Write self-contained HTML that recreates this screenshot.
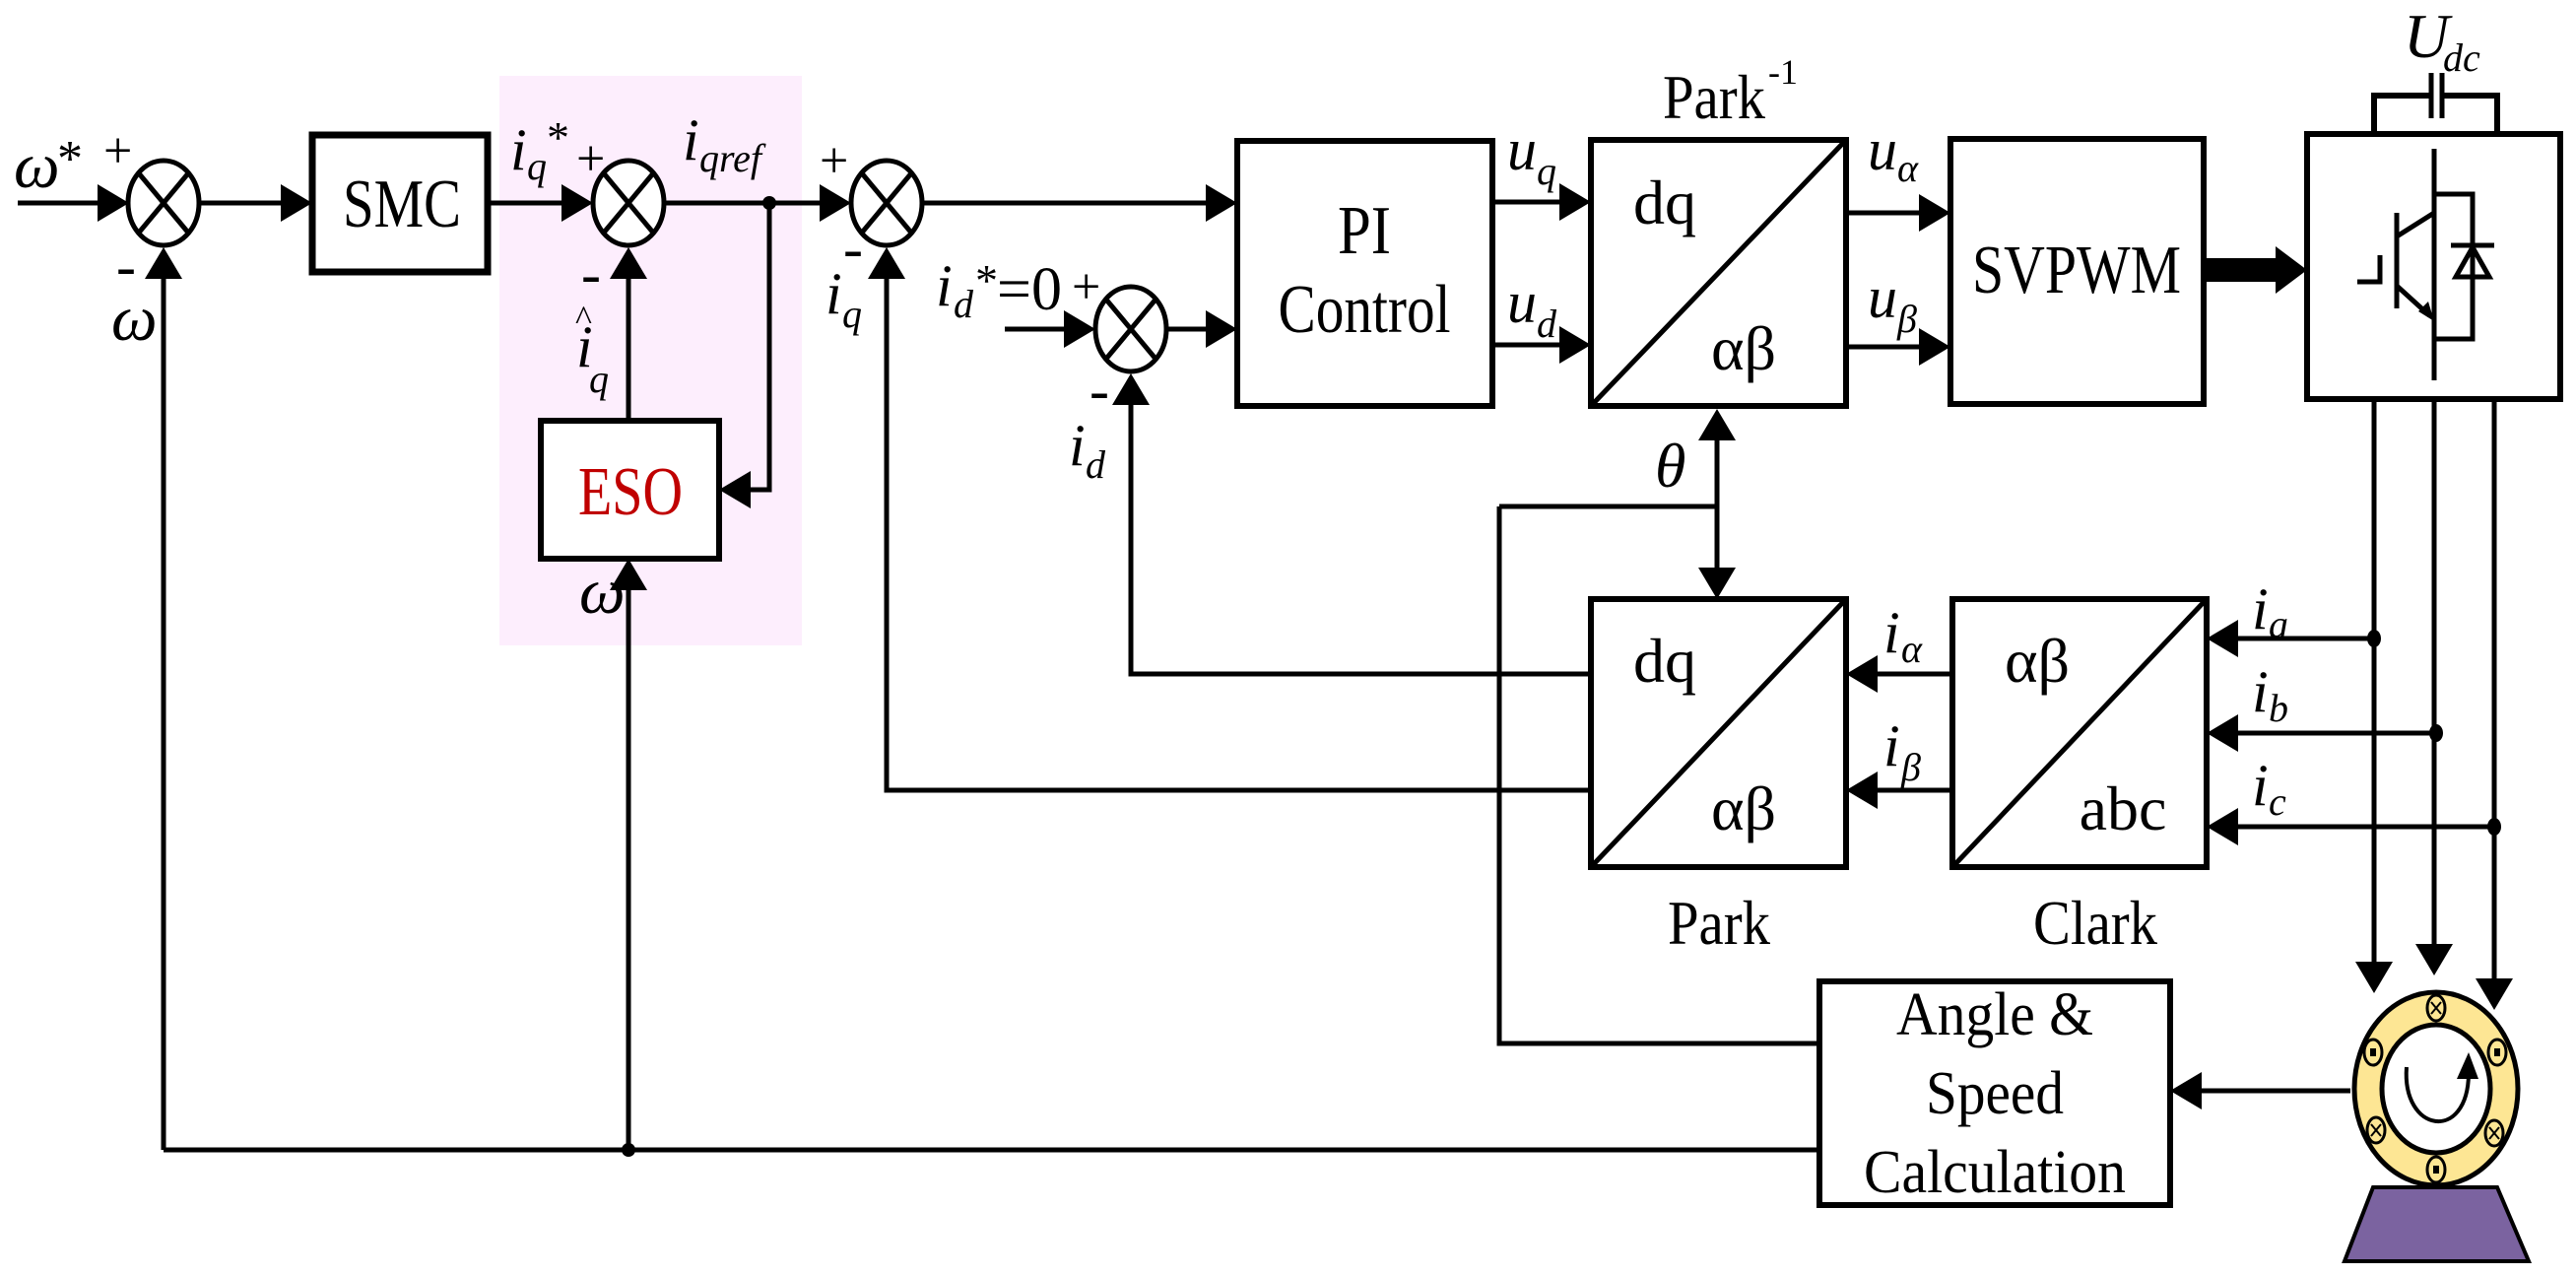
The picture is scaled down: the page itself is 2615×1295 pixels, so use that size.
<!DOCTYPE html>
<html><head><meta charset="utf-8"><style>
html,body{margin:0;padding:0;background:#fff;}
svg{display:block;}
text{font-family:"Liberation Serif",serif;fill:#000;}
.it{font-style:italic;}
</style></head><body>
<svg width="2615" height="1295" viewBox="0 0 2615 1295" xmlns="http://www.w3.org/2000/svg">
<rect x="507" y="77" width="307" height="578" fill="#fdeefd"/>
<g stroke="#000" stroke-width="5" fill="none">
<rect x="317" y="137" width="178" height="139" fill="#fff" stroke-width="7"/>
<rect x="549" y="427" width="181" height="140" fill="#fff" stroke-width="6"/>
<rect x="1256" y="143" width="259" height="269" fill="#fff" stroke-width="6"/>
<rect x="1615" y="142" width="259" height="270" fill="#fff" stroke-width="6"/>
<line x1="1615" y1="412" x2="1874" y2="142"/>
<rect x="1980" y="141" width="257" height="269" fill="#fff" stroke-width="6"/>
<rect x="2342" y="136" width="257" height="269" fill="#fff" stroke-width="6"/>
<rect x="1615" y="608" width="259" height="272" fill="#fff" stroke-width="6"/>
<line x1="1615" y1="880" x2="1874" y2="608"/>
<rect x="1982" y="608" width="258" height="272" fill="#fff" stroke-width="6"/>
<line x1="1982" y1="880" x2="2240" y2="608"/>
<rect x="1847" y="996" width="356" height="227" fill="#fff" stroke-width="6"/>
<g fill="#fff" stroke-width="5">
<ellipse cx="166" cy="206" rx="36" ry="43"/>
<ellipse cx="638" cy="206" rx="36" ry="43"/>
<ellipse cx="900" cy="206" rx="36" ry="43"/>
<ellipse cx="1148" cy="334" rx="36" ry="43"/>
</g>
<path d="M141,176L191,236M191,176L141,236M613,176L663,236M663,176L613,236M875,176L925,236M925,176L875,236M1123,304L1173,364M1173,304L1123,364"/>
<path d="M18,206H110M201,206H290M495,206H580M674,206H840M936,206H1230M1020,334H1090M1184,334H1230"/>
<path d="M166,1167V270M638,430V270M638,1167V590M781,206V497H755M1615,802H900V270M1615,684H1148V398"/>
<path d="M1515,205H1590M1515,350H1590M1874,216H1955M1874,352H1955"/>
<path d="M1743,440V585M1522,514H1743M1522,514V1059H1847"/>
<path d="M1982,684H1898M1982,802H1898M2410,648H2265M2473,744H2265M2532,839H2265"/>
<path d="M2410,405V985M2471,405V967M2532,405V1002M2386,1107H2228M166,1167H1847"/>
<path d="M2410,136V97H2468M2479,97H2535V136" stroke-width="6"/>
<path d="M2468,74V120M2479,74V120" stroke-width="5"/>
<path d="M2471,151V386M2471,197H2510V344H2471M2433,216V313M2416,259V286H2393M2433,240L2471,216M2433,290L2466,320" stroke-width="5"/>
<path d="M2488,249H2532"/>
</g>
<polygon points="2510,251 2493,281 2527,281" fill="none" stroke="#000" stroke-width="5"/>
<polygon points="2471,326 2455,316 2465,306" fill="#000"/>
<g fill="#000">
<polygon points="99,187 131,206 99,225"/>
<polygon points="285,187 317,206 285,225"/>
<polygon points="570,187 602,206 570,225"/>
<polygon points="832,187 864,206 832,225"/>
<polygon points="1224,187 1256,206 1224,225"/>
<polygon points="1080,315 1112,334 1080,353"/>
<polygon points="1224,315 1256,334 1224,353"/>
<polygon points="147,283 166,251 185,283"/>
<polygon points="619,283 638,251 657,283"/>
<polygon points="619,599 638,567 657,599"/>
<polygon points="881,283 900,251 919,283"/>
<polygon points="1129,411 1148,379 1167,411"/>
<polygon points="762,478 730,497 762,516"/>
<polygon points="1583,186 1615,205 1583,224"/>
<polygon points="1583,331 1615,350 1583,369"/>
<polygon points="1948,197 1980,216 1948,235"/>
<polygon points="1948,333 1980,352 1948,371"/>
<rect x="2240" y="262" width="72" height="24"/>
<polygon points="2310,250 2342,274 2310,298"/>
<polygon points="1724,447 1743,415 1762,447"/>
<polygon points="1724,576 1743,608 1762,576"/>
<polygon points="1906,665 1874,684 1906,703"/>
<polygon points="1906,783 1874,802 1906,821"/>
<polygon points="2272,629 2240,648 2272,667"/>
<polygon points="2272,725 2240,744 2272,763"/>
<polygon points="2272,820 2240,839 2272,858"/>
<polygon points="2391,976 2410,1008 2429,976"/>
<polygon points="2452,958 2471,990 2490,958"/>
<polygon points="2513,993 2532,1025 2551,993"/>
<polygon points="2235,1088 2203,1107 2235,1126"/>
<circle cx="781" cy="206" r="7"/>
<circle cx="638" cy="1167" r="7"/>
<ellipse cx="2410" cy="648" rx="7" ry="9"/>
<ellipse cx="2473" cy="744" rx="7" ry="9"/>
<ellipse cx="2532" cy="839" rx="7" ry="9"/>
</g>
<polygon points="2409,1205 2535,1205 2567,1280 2380,1280" fill="#7b63a0" stroke="#000" stroke-width="4"/>
<ellipse cx="2473" cy="1105" rx="83" ry="98" fill="#fde694" stroke="#000" stroke-width="5"/>
<ellipse cx="2473" cy="1105" rx="55" ry="65" fill="#fff" stroke="#000" stroke-width="5"/>
<g fill="#fde694" stroke="#000" stroke-width="3">
<ellipse cx="2473" cy="1023" rx="9" ry="13"/><ellipse cx="2409" cy="1068" rx="9" ry="13"/><ellipse cx="2535" cy="1068" rx="9" ry="13"/>
<ellipse cx="2412" cy="1147" rx="9" ry="13"/><ellipse cx="2532" cy="1150" rx="9" ry="13"/><ellipse cx="2473" cy="1187" rx="9" ry="13"/>
</g>
<g stroke="#000" stroke-width="2"><path d="M2468,1017L2478,1029M2478,1017L2468,1029M2407,1141L2417,1153M2417,1141L2407,1153M2527,1144L2537,1156M2537,1144L2527,1156"/></g>
<g fill="#000"><rect x="2406" y="1064" width="6" height="8"/><rect x="2532" y="1064" width="6" height="8"/><rect x="2470" y="1183" width="6" height="8"/></g>
<path d="M2443,1083 C2438,1150 2505,1160 2506,1090" fill="none" stroke="#000" stroke-width="4"/>
<polygon points="2506,1068 2494,1095 2516,1095" fill="#000"/>
<text x="408" y="230" font-size="70" text-anchor="middle" textLength="120" lengthAdjust="spacingAndGlyphs">SMC</text>
<text x="640" y="522" font-size="70" text-anchor="middle" style="fill:#c00000" textLength="106" lengthAdjust="spacingAndGlyphs">ESO</text>
<text x="1385" y="257" font-size="70" text-anchor="middle" textLength="54" lengthAdjust="spacingAndGlyphs">PI</text>
<text x="1385" y="337" font-size="70" text-anchor="middle" textLength="175" lengthAdjust="spacingAndGlyphs">Control</text>
<text x="2108" y="297" font-size="70" text-anchor="middle" textLength="212" lengthAdjust="spacingAndGlyphs">SVPWM</text>
<text x="1690" y="227" font-size="64" text-anchor="middle">dq</text>
<text x="1770" y="375" font-size="64" text-anchor="middle">αβ</text>
<text x="1690" y="692" font-size="64" text-anchor="middle">dq</text>
<text x="1770" y="842" font-size="64" text-anchor="middle">αβ</text>
<text x="2068" y="692" font-size="64" text-anchor="middle">αβ</text>
<text x="2155" y="842" font-size="64" text-anchor="middle">abc</text>
<text x="1745" y="958" font-size="64" text-anchor="middle" textLength="104" lengthAdjust="spacingAndGlyphs">Park</text>
<text x="2127" y="958" font-size="64" text-anchor="middle" textLength="126" lengthAdjust="spacingAndGlyphs">Clark</text>
<text x="1688" y="120" font-size="64" textLength="104" lengthAdjust="spacingAndGlyphs">Park</text>
<text x="1795" y="85" font-size="36">-1</text>
<text x="2025" y="1050" font-size="62" text-anchor="middle" textLength="200" lengthAdjust="spacingAndGlyphs">Angle &amp;</text>
<text x="2025" y="1130" font-size="62" text-anchor="middle" textLength="140" lengthAdjust="spacingAndGlyphs">Speed</text>
<text x="2025" y="1210" font-size="62" text-anchor="middle" textLength="266" lengthAdjust="spacingAndGlyphs">Calculation</text>
<g font-size="60">
<text x="14" y="190" class="it" font-size="66">ω</text><text x="58" y="178" font-size="52">*</text>
<text x="105" y="170" font-size="52">+</text>
<text x="118" y="290" font-size="60">-</text>
<text x="113" y="345" class="it" font-size="66">ω</text>
<text x="518" y="172" class="it">i</text><text x="535" y="182" font-size="40" class="it">q</text><text x="555" y="155" font-size="46">*</text>
<text x="585" y="178" font-size="52">+</text>
<text x="590" y="298" font-size="60">-</text>
<text x="585" y="372" class="it">i</text><text x="584" y="335" font-size="36">^</text><text x="598" y="398" font-size="40" class="it">q</text>
<text x="693" y="162" class="it">i</text><text x="710" y="174" font-size="40" class="it">qref</text>
<text x="832" y="180" font-size="52">+</text>
<text x="856" y="272" font-size="60">-</text>
<text x="838" y="318" class="it">i</text><text x="855" y="332" font-size="40" class="it">q</text>
<text x="950" y="310" class="it">i</text><text x="968" y="322" font-size="40" class="it">d</text><text x="990" y="300" font-size="46">*</text><text x="1012" y="314" font-size="62">=0</text>
<text x="1088" y="308" font-size="52">+</text>
<text x="1106" y="416" font-size="60">-</text>
<text x="1085" y="472" class="it">i</text><text x="1102" y="485" font-size="40" class="it">d</text>
<text x="588" y="622" class="it" font-size="66">ω</text>
<text x="1530" y="172" class="it">u</text><text x="1560" y="187" font-size="40" class="it">q</text>
<text x="1530" y="327" class="it">u</text><text x="1560" y="342" font-size="40" class="it">d</text>
<text x="1896" y="172" class="it">u</text><text x="1926" y="184" font-size="40" class="it">α</text>
<text x="1896" y="322" class="it">u</text><text x="1926" y="337" font-size="40" class="it">β</text>
<text x="1680" y="494" class="it" font-size="64">θ</text>
<text x="2440" y="58" class="it" font-size="64">U</text><text x="2480" y="72" font-size="40" class="it">dc</text>
<text x="1912" y="662" class="it">i</text><text x="1930" y="672" font-size="40" class="it">α</text>
<text x="1912" y="777" class="it">i</text><text x="1930" y="792" font-size="40" class="it">β</text>
<text x="2286" y="638" class="it">i</text><text x="2303" y="647" font-size="40" class="it">a</text>
<text x="2286" y="722" class="it">i</text><text x="2303" y="732" font-size="40" class="it">b</text>
<text x="2286" y="817" class="it">i</text><text x="2303" y="827" font-size="40" class="it">c</text>
</g>
</svg>
</body></html>
